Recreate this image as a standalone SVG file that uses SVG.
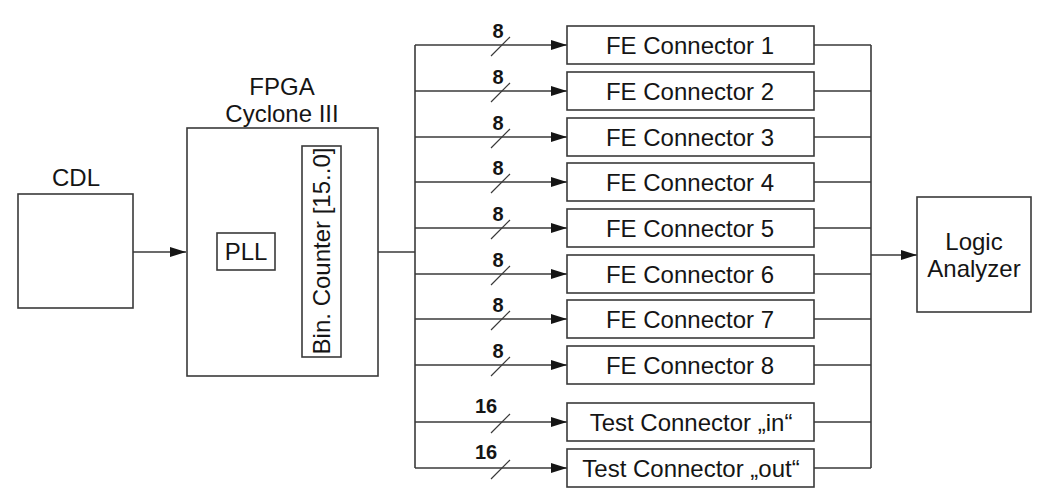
<svg xmlns="http://www.w3.org/2000/svg" width="1037" height="488" viewBox="0 0 1037 488">
<style>
.box{fill:#fff;stroke:#3a3a3a;stroke-width:1.6}
.ln{fill:none;stroke:#3a3a3a;stroke-width:1.6}
.sl{fill:none;stroke:#3a3a3a;stroke-width:1.2}
.t{font-family:"Liberation Sans",Arial,sans-serif;font-size:24px;fill:#151515;text-anchor:middle}
.n{font-family:"Liberation Sans",Arial,sans-serif;font-size:20px;font-weight:bold;fill:#151515;text-anchor:middle}
</style>
<defs>
<marker id="ah" markerUnits="userSpaceOnUse" markerWidth="17" markerHeight="11" refX="16" refY="5" orient="auto">
<path d="M0,0 L16,5 L0,10 z" fill="#151515"/>
</marker>
</defs>
<rect width="1037" height="488" fill="#fff"/>
<g id="connectors">
<line class="ln" x1="133" y1="252" x2="186" y2="252" marker-end="url(#ah)"/>
<line class="ln" x1="187" y1="252" x2="217" y2="252"/>
<line class="ln" x1="275" y1="252" x2="302" y2="252"/>
<line class="ln" x1="341" y1="252" x2="415" y2="252"/>
<line class="ln" x1="415" y1="45" x2="415" y2="468"/>
<line class="ln" x1="415" y1="45" x2="567" y2="45" marker-end="url(#ah)"/>
<line class="ln" x1="415" y1="91" x2="567" y2="91" marker-end="url(#ah)"/>
<line class="ln" x1="415" y1="137" x2="567" y2="137" marker-end="url(#ah)"/>
<line class="ln" x1="415" y1="182" x2="567" y2="182" marker-end="url(#ah)"/>
<line class="ln" x1="415" y1="228" x2="567" y2="228" marker-end="url(#ah)"/>
<line class="ln" x1="415" y1="274" x2="567" y2="274" marker-end="url(#ah)"/>
<line class="ln" x1="415" y1="319" x2="567" y2="319" marker-end="url(#ah)"/>
<line class="ln" x1="415" y1="365" x2="567" y2="365" marker-end="url(#ah)"/>
<line class="ln" x1="415" y1="422" x2="567" y2="422" marker-end="url(#ah)"/>
<line class="ln" x1="415" y1="468" x2="567" y2="468" marker-end="url(#ah)"/>
<path class="sl" d="M491,56 L510,37 M491,102 L510,83 M491,148 L510,129 M491,193 L510,174 M491,239 L510,220 M491,285 L510,266 M491,330 L510,311 M491,376 L510,357 M491,433 L510,414 M491,479 L510,460"/>
<text class="n" x="498" y="38">8</text>
<text class="n" x="498" y="84">8</text>
<text class="n" x="498" y="130">8</text>
<text class="n" x="498" y="175">8</text>
<text class="n" x="498" y="221">8</text>
<text class="n" x="498" y="267">8</text>
<text class="n" x="498" y="312">8</text>
<text class="n" x="498" y="358">8</text>
<text class="n" x="486" y="413">16</text>
<text class="n" x="486" y="459">16</text>
<line class="ln" x1="871" y1="45" x2="871" y2="468"/>
<path class="ln" d="M814,45 H871 M814,91 H871 M814,137 H871 M814,182 H871 M814,228 H871 M814,274 H871 M814,319 H871 M814,365 H871 M814,422 H871 M814,468 H871"/>
<line class="ln" x1="871" y1="255" x2="917" y2="255" marker-end="url(#ah)"/>
</g>
<g id="cdl">
<rect class="box" x="18" y="194" width="115" height="114"/>
<text class="t" x="76" y="186">CDL</text>
</g>
<g id="fpga">
<rect class="box" x="187" y="128" width="191" height="248"/>
<text class="t" x="282" y="95">FPGA</text>
<text class="t" x="282" y="122">Cyclone III</text>
</g>
<g id="pll">
<rect class="box" x="217" y="233" width="58" height="37"/>
<text class="t" x="246" y="260">PLL</text>
</g>
<g id="counter">
<rect class="box" x="302" y="146" width="39" height="211"/>
<text class="t" transform="translate(329.5,251) rotate(-90)">Bin. Counter [15..0]</text>
</g>
<g id="fe1"><rect class="box" x="567" y="26" width="247" height="38"/><text class="t" x="690" y="54">FE Connector 1</text></g>
<g id="fe2"><rect class="box" x="567" y="72" width="247" height="38"/><text class="t" x="690" y="100">FE Connector 2</text></g>
<g id="fe3"><rect class="box" x="567" y="118" width="247" height="38"/><text class="t" x="690" y="146">FE Connector 3</text></g>
<g id="fe4"><rect class="box" x="567" y="163" width="247" height="38"/><text class="t" x="690" y="191">FE Connector 4</text></g>
<g id="fe5"><rect class="box" x="567" y="209" width="247" height="38"/><text class="t" x="690" y="237">FE Connector 5</text></g>
<g id="fe6"><rect class="box" x="567" y="255" width="247" height="38"/><text class="t" x="690" y="283">FE Connector 6</text></g>
<g id="fe7"><rect class="box" x="567" y="300" width="247" height="38"/><text class="t" x="690" y="328">FE Connector 7</text></g>
<g id="fe8"><rect class="box" x="567" y="346" width="247" height="38"/><text class="t" x="690" y="374">FE Connector 8</text></g>
<g id="testin"><rect class="box" x="567" y="403" width="247" height="38"/><text class="t" x="691" y="431">Test Connector „in“</text></g>
<g id="testout"><rect class="box" x="567" y="449" width="247" height="38"/><text class="t" x="691" y="477">Test Connector „out“</text></g>
<g id="logic">
<rect class="box" x="917" y="197" width="114" height="115"/>
<text class="t" x="974" y="250">Logic</text>
<text class="t" x="974" y="277">Analyzer</text>
</g>
</svg>
